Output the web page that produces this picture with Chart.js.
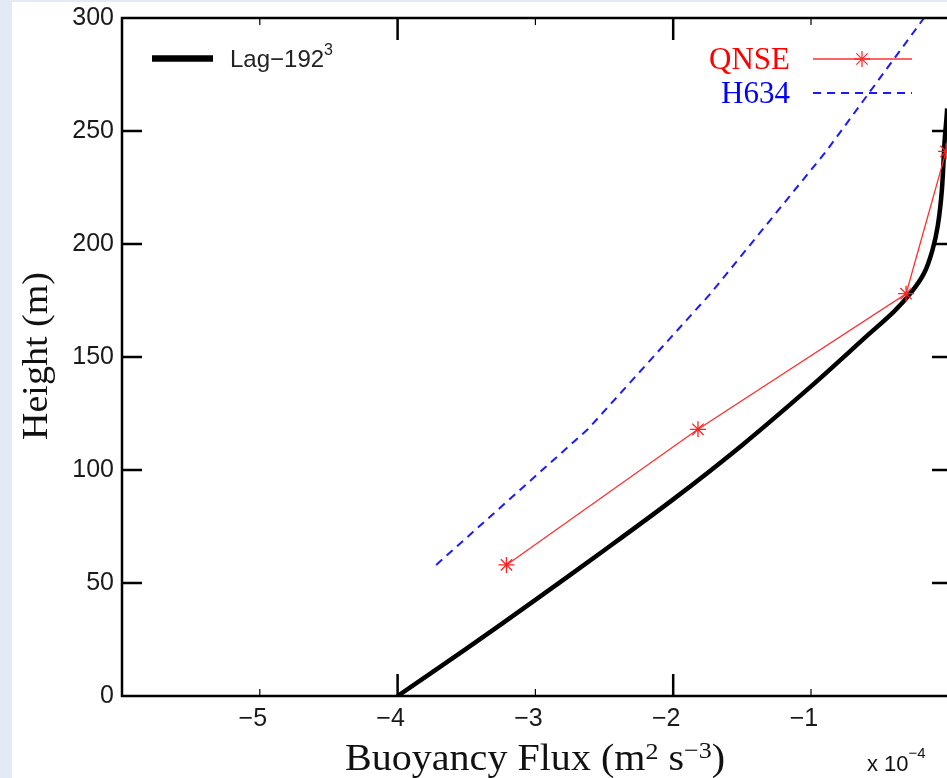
<!DOCTYPE html>
<html>
<head>
<meta charset="utf-8">
<title>Buoyancy flux profile</title>
<script src="https://cdn.jsdelivr.net/npm/chart.js@4.4.1/dist/chart.umd.min.js"></script>
<style>
  html, body { margin: 0; padding: 0; background: #fff; overflow: hidden; }
  #wrap { width: 947px; height: 778px; }
</style>
</head>
<body>
<div id="wrap"><canvas id="flux" width="947" height="778"></canvas></div>
<script>
// Buoyancy flux (x 1e-4 m^2 s^-3) against height (m)
const lagFlux   = [-4.00, -3.50, -3.00, -2.50, -2.00, -1.50, -1.00, -0.60, -0.40, -0.28, -0.18, -0.12, -0.08, -0.05, -0.03, -0.012, 0.01];
const lagHeight = [0, 21, 42.5, 64.5, 87, 111, 137, 159, 170, 178, 187, 197, 208, 224, 246, 260, 300];

const qnseFlux   = [-3.21, -1.82, -0.31, -0.02];
const qnseHeight = [58, 118, 178, 241];

const h634Flux   = [-3.72, -2.62, -1.73, -0.89, -0.18];
const h634Height = [58, 118, 178, 241, 300];

const xTicks = [-6, -5, -4, -3, -2, -1];
const yTicks = [0, 50, 100, 150, 200, 250, 300];

const SANS = "'Liberation Sans', Arial, Helvetica, sans-serif";
const SERIF = "'Liberation Serif', 'Times New Roman', serif";

function toPoints(xs, ys) {
    return xs.map((x, i) => ({ x: x, y: ys[i] }));
}

function minus(v) {
    return v < 0 ? '\u2212' + Math.abs(v) : String(v);
}

// draw a run of text pieces (some raised as superscripts);
// when width is given the run is stretched to span exactly that many pixels
function drawRuns(ctx, runs, x, y, align, width) {
    let total = 0;
    runs.forEach(r => { ctx.font = r.font; total += ctx.measureText(r.text).width; });
    const sx = width ? width / total : 1;
    const span = total * sx;
    const start = align === 'right' ? x - span : align === 'center' ? x - span / 2 : x;
    ctx.save();
    ctx.translate(start, y);
    ctx.scale(sx, 1);
    ctx.textAlign = 'left';
    let cx = 0;
    runs.forEach(r => {
        ctx.font = r.font;
        ctx.fillText(r.text, cx, r.dy || 0);
        cx += ctx.measureText(r.text).width;
    });
    ctx.restore();
}

function drawStar(ctx, x, y, r) {
    const d = r * Math.SQRT1_2;
    ctx.beginPath();
    ctx.moveTo(x - r, y); ctx.lineTo(x + r, y);
    ctx.moveTo(x, y - r); ctx.lineTo(x, y + r);
    ctx.moveTo(x - d, y - d); ctx.lineTo(x + d, y + d);
    ctx.moveTo(x - d, y + d); ctx.lineTo(x + d, y - d);
    ctx.stroke();
}

const framePlugin = {
    id: 'frame',
    beforeDraw(chart) {
        const ctx = chart.ctx;
        ctx.save();
        ctx.fillStyle = '#ffffff';
        ctx.fillRect(0, 0, chart.width, chart.height);
        ctx.fillStyle = '#e3eaf5';
        ctx.fillRect(0, 0, 12, chart.height);
        ctx.fillRect(0, 0, chart.width, 2);
        ctx.restore();
    },
    afterDraw(chart) {
        const ctx = chart.ctx;
        const a = chart.chartArea;
        const xs = chart.scales.x;
        const ys = chart.scales.y;
        ctx.save();

        // axes box (right side runs off the canvas)
        ctx.strokeStyle = '#000';
        ctx.lineWidth = 2.5;
        ctx.beginPath();
        ctx.moveTo(a.right + 5, a.top);
        ctx.lineTo(a.left, a.top);
        ctx.lineTo(a.left, a.bottom);
        ctx.lineTo(a.right + 5, a.bottom);
        ctx.stroke();

        // inward tick marks
        xTicks.forEach(v => {
            if (v === xs.min) return;
            const px = xs.getPixelForValue(v);
            const len = (v === -4 || v === -2) ? 22 : 7;
            ctx.lineWidth = len > 10 ? 2.5 : 1.2;
            ctx.beginPath();
            ctx.moveTo(px, a.bottom); ctx.lineTo(px, a.bottom - len);
            ctx.moveTo(px, a.top); ctx.lineTo(px, a.top + len);
            ctx.stroke();
        });
        ctx.lineWidth = 2.5;
        yTicks.forEach(v => {
            if (v === ys.min || v === ys.max) return;
            const py = ys.getPixelForValue(v);
            ctx.beginPath();
            ctx.moveTo(a.left, py); ctx.lineTo(a.left + 20, py);
            ctx.moveTo(a.right + 2, py); ctx.lineTo(a.right - 15, py);
            ctx.stroke();
        });

        // legend: Lag-192^3
        ctx.lineWidth = 6.5;
        ctx.beginPath();
        ctx.moveTo(152, 58.5); ctx.lineTo(213, 58.5);
        ctx.stroke();
        ctx.fillStyle = '#222';
        ctx.textBaseline = 'alphabetic';
        drawRuns(ctx, [
            { text: 'Lag\u2212192', font: '24px ' + SANS },
            { text: '3', font: '16px ' + SANS, dy: -12 }
        ], 230, 67, 'left');

        // legend: QNSE / H634
        ctx.textAlign = 'right';
        ctx.font = '31px ' + SERIF;
        ctx.fillStyle = '#ff0000';
        ctx.fillText('QNSE', 790, 69);
        ctx.fillStyle = '#0000ff';
        ctx.fillText('H634', 790, 103);

        ctx.strokeStyle = '#ff3030';
        ctx.lineWidth = 1.3;
        ctx.beginPath();
        ctx.moveTo(813, 59); ctx.lineTo(912, 59);
        ctx.stroke();
        drawStar(ctx, 862, 59, 8);

        ctx.strokeStyle = '#1a1aff';
        ctx.lineWidth = 2;
        ctx.setLineDash([8, 6]);
        ctx.beginPath();
        ctx.moveTo(813, 93); ctx.lineTo(912, 93);
        ctx.stroke();
        ctx.setLineDash([]);

        // axis titles
        ctx.fillStyle = '#111';
        drawRuns(ctx, [
            { text: 'Buoyancy Flux (m', font: '37px ' + SERIF },
            { text: '2', font: '24px ' + SERIF, dy: -11 },
            { text: ' s', font: '37px ' + SERIF },
            { text: '\u22123', font: '24px ' + SERIF, dy: -12 },
            { text: ')', font: '37px ' + SERIF }
        ], 535, 770, 'center', 380);

        drawRuns(ctx, [
            { text: 'x 10', font: '22px ' + SANS },
            { text: '\u22124', font: '15px ' + SANS, dy: -13 }
        ], 867, 771, 'left');

        ctx.translate(38, 356);
        ctx.rotate(-Math.PI / 2);
        ctx.textBaseline = 'middle';
        drawRuns(ctx, [
            { text: 'Height (m)', font: '35px ' + SERIF }
        ], 0, 0, 'center', 168);

        ctx.restore();
    }
};

new Chart(document.getElementById('flux'), {
    type: 'scatter',
    data: {
        datasets: [
            {
                label: 'QNSE',
                data: toPoints(qnseFlux, qnseHeight),
                showLine: true,
                borderColor: '#ff3030',
                borderWidth: 1.3,
                pointStyle: 'star',
                pointRadius: 8,
                pointBorderWidth: 1.3,
                pointBorderColor: '#ff2020',
                pointBackgroundColor: '#ff2020'
            },
            {
                label: 'Lag-192^3',
                data: toPoints(lagFlux, lagHeight),
                showLine: true,
                borderColor: '#000000',
                borderWidth: 4.5,
                tension: 0.3,
                pointRadius: 0
            },
            {
                label: 'H634',
                data: toPoints(h634Flux, h634Height),
                showLine: true,
                borderColor: '#1a1aff',
                borderWidth: 2,
                borderDash: [8, 6],
                pointRadius: 0
            }
        ]
    },
    options: {
        responsive: false,
        animation: false,
        events: [],
        layout: {
            autoPadding: false,
            padding: { top: 18, right: 0, bottom: 0, left: 0 }
        },
        plugins: {
            legend: { display: false },
            tooltip: { enabled: false }
        },
        scales: {
            x: {
                type: 'linear',
                min: -6,
                max: -0.013,
                afterFit: s => { s.height = 82; s.paddingLeft = 0; s.paddingRight = 0; },
                afterBuildTicks: s => { s.ticks = xTicks.map(v => ({ value: v })); },
                grid: { display: false, drawTicks: false },
                border: { display: false },
                ticks: {
                    color: '#1a1a1a',
                    font: { family: SANS, size: 25 },
                    padding: 8,
                    labelOffset: -7,
                    maxRotation: 0,
                    callback: v => (v === -6 ? '' : minus(v))
                }
            },
            y: {
                type: 'linear',
                min: 0,
                max: 300,
                afterFit: s => { s.width = 122; s.paddingTop = 0; s.paddingBottom = 0; },
                afterBuildTicks: s => { s.ticks = yTicks.map(v => ({ value: v })); },
                grid: { display: false, drawTicks: false },
                border: { display: false },
                ticks: {
                    color: '#1a1a1a',
                    font: { family: SANS, size: 25 },
                    padding: 8,
                    callback: v => String(v)
                }
            }
        }
    },
    plugins: [framePlugin]
});
</script>
</body>
</html>
